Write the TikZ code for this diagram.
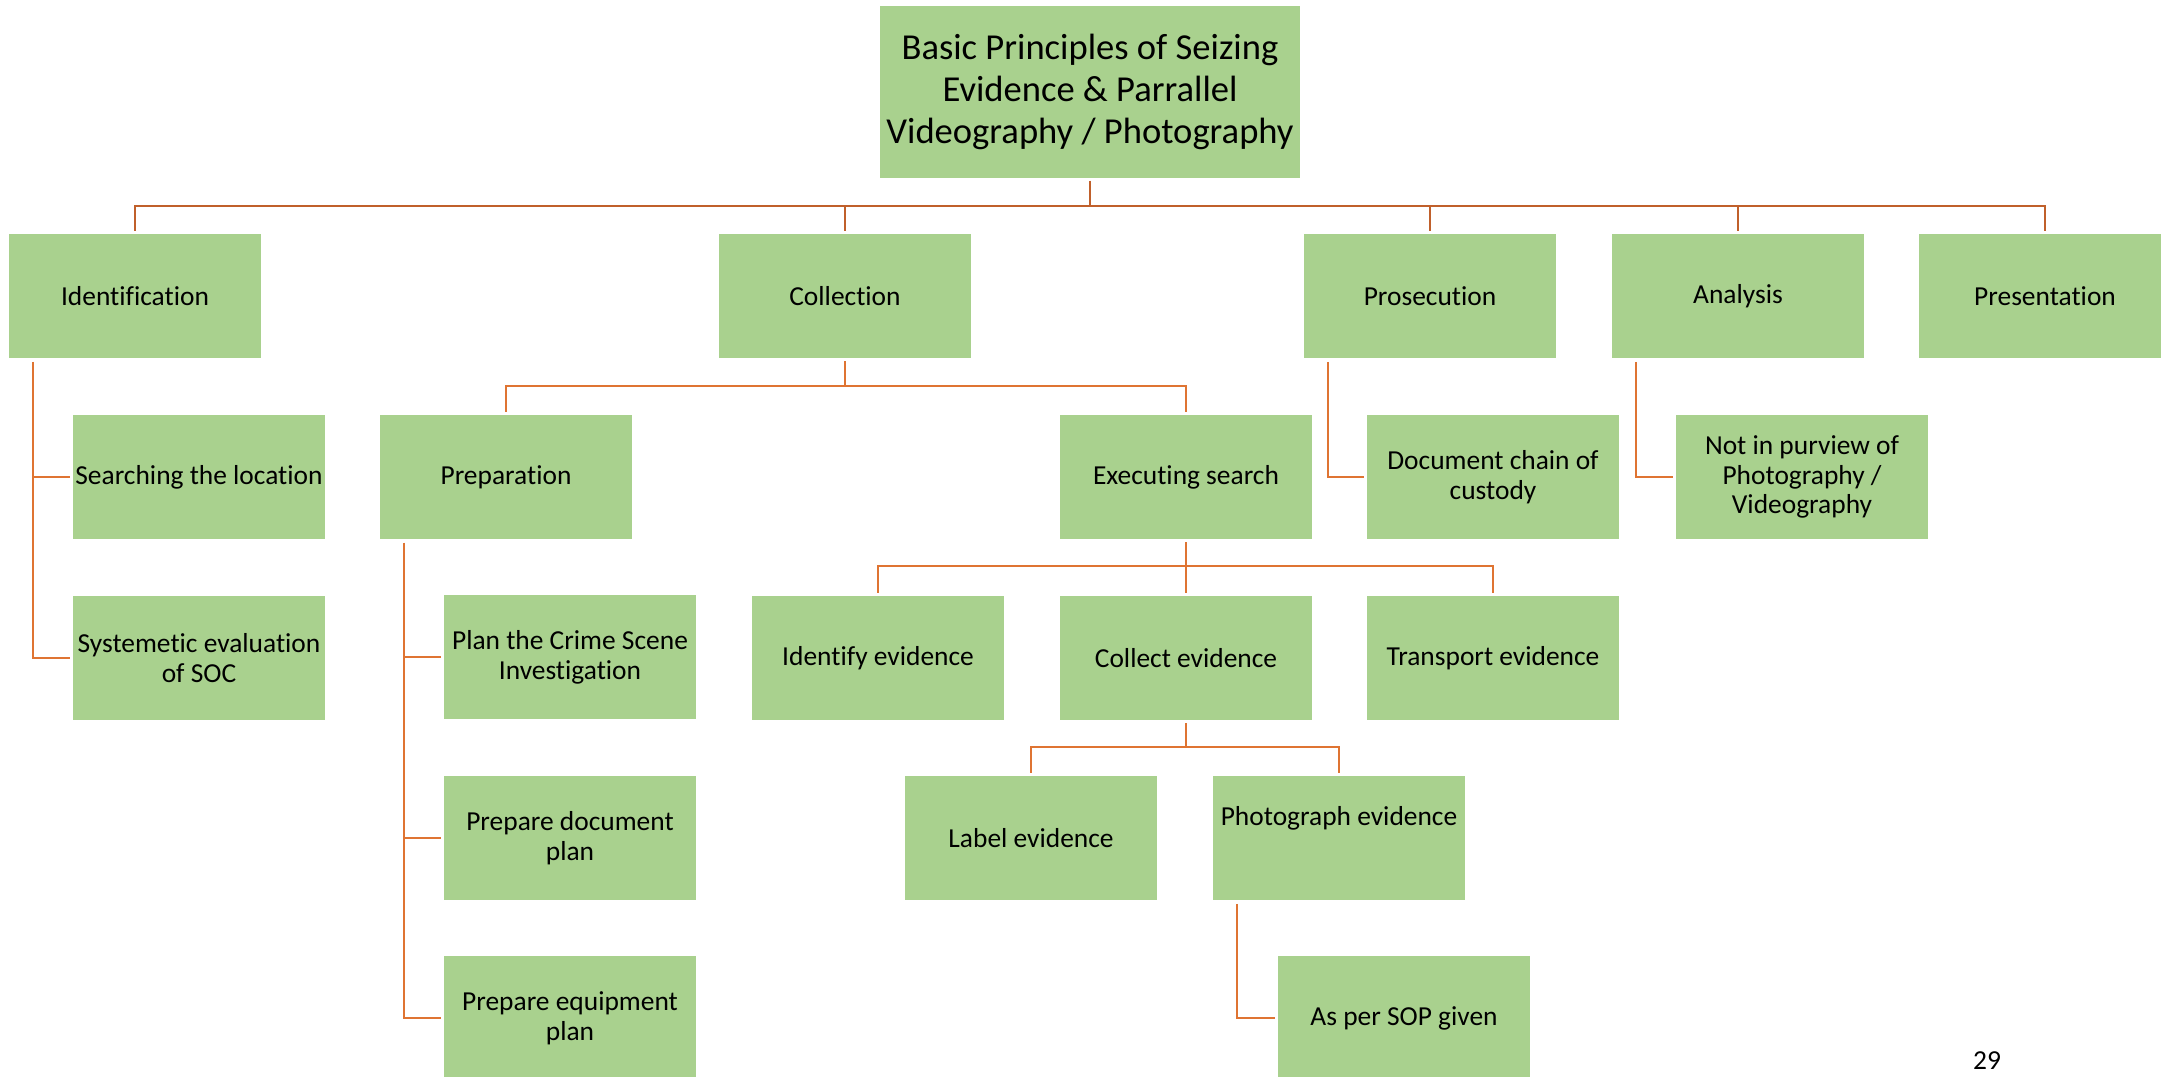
\documentclass[tikz,border=0pt]{standalone}
\usepackage{fontspec}
\setmainfont[Ligatures=NoCommon]{Carlito}
\usetikzlibrary{positioning}
\definecolor{boxgreen}{HTML}{A9D18E}
\definecolor{topline}{HTML}{C0602B}
\definecolor{subline}{HTML}{DF7432}
\newcommand{\boxfont}{\fontsize{7.8}{8.5}\selectfont}
\newcommand{\rootfont}{\fontsize{10.4}{11.9}\selectfont}

\begin{document}
\begin{tikzpicture}[x=0.01cm, y=-0.01cm,
    box/.style={fill=boxgreen, minimum width=2.52cm, minimum height=1.24cm,
                inner sep=0pt, outer sep=0.03cm, align=center, font=\boxfont},
    rootbox/.style={box, minimum width=4.2cm, minimum height=1.71cm, font=\rootfont},
    link/.style={draw=subline, line width=0.025cm},
    toplink/.style={draw=topline, line width=0.028cm}]
        \clip (0,0) rectangle (2161,1077);

        % Root
        \node[rootbox] (root) at (1090,92) {Basic Principles of Seizing\\Evidence \& Parrallel\\Videography / Photography};

        % First level
        \node[box] (ident)   at ( 135,296) {Identification};
        \node[box] (collect) at ( 845,296) {Collection};
        \node[box] (prosec)  at (1430,296) {Prosecution};
        \node[box] (analys)  at (1738,296) {Analysis};
        \node[box] (present) at (2045,296) {Presentation};

        % Second level
        \node[box] (search)  at ( 199,477) {Searching the location};
        \node[box] (syseval) at ( 199,658) {Systemetic evaluation\\of SOC};
        \node[box] (prep)    at ( 506,477) {Preparation};
        \node[box] (exec)    at (1186,477) {Executing search};
        \node[box] (custody) at (1493,477) {Document chain of\\custody};
        \node[box] (purview) at (1802,477) {Not in purview of\\Photography /\\Videography};

        % Preparation steps
        \node[box] (plancsi)   at (570, 657) {Plan the Crime Scene\\Investigation};
        \node[box] (docplan)   at (570, 838) {Prepare document\\plan};
        \node[box] (equipplan) at (570,1018) {Prepare equipment\\plan};

        % Search steps
        \node[box] (identev) at ( 878,658) {Identify evidence};
        \node[box] (collev)  at (1186,658) {Collect evidence};
        \node[box] (transev) at (1493,658) {Transport evidence};
        \node[box] (labelev) at (1031,838) {Label evidence};
        \node[box] (photoev) at (1339,838) {Photograph evidence\\[4pt]~};
        \node[box] (sop)     at (1404,1018) {As per SOP given};

        % Page number
        \node[font=\boxfont] (pagenum) at (1987,1061) {29};

        % Bars and rails
        \coordinate (rootbar)  at (1090, 206);
        \coordinate (colbar)   at ( 845, 386);
        \coordinate (exbar)    at (1186, 566);
        \coordinate (clbar)    at (1186, 747);
        \coordinate (idrail)   at (  33, 362);
        \coordinate (preprail) at ( 404, 543);
        \coordinate (prrail)   at (1328, 362);
        \coordinate (anrail)   at (1636, 362);
        \coordinate (phrail)   at (1237, 904);

        % Connectors
        \draw[toplink] (root) -- (rootbar);
        \foreach \n in {ident,collect,prosec,analys,present}
            \draw[toplink] (rootbar) -| (\n.north);

        \foreach \n in {search,syseval}
            \draw[link] (idrail) |- (\n.west);

        \draw[link] (collect) -- (colbar);
        \foreach \n in {prep,exec}
            \draw[link] (colbar) -| (\n.north);

        \foreach \n in {plancsi,docplan,equipplan}
            \draw[link] (preprail) |- (\n.west);

        \draw[link] (exec) -- (exbar);
        \foreach \n in {identev,collev,transev}
            \draw[link] (exbar) -| (\n.north);

        \draw[link] (collev) -- (clbar);
        \foreach \n in {labelev,photoev}
            \draw[link] (clbar) -| (\n.north);

        \draw[link] (phrail)  |- (sop.west);
        \draw[link] (prrail)  |- (custody.west);
        \draw[link] (anrail)  |- (purview.west);
\end{tikzpicture}
\end{document}
